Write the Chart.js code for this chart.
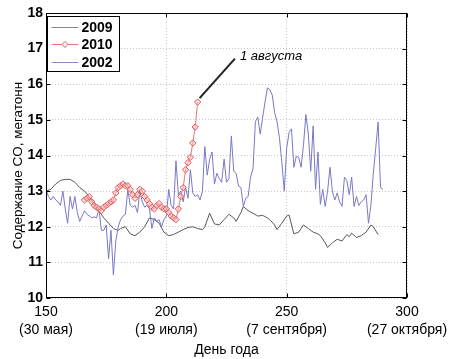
<!DOCTYPE html>
<html>
<head>
<meta charset="utf-8">
<script src="https://cdn.jsdelivr.net/npm/chart.js@4"></script>
<style>
html,body{margin:0;padding:0;background:#fff;}
canvas{display:block;}
</style>
</head>
<body>
<canvas id="coChart" width="456" height="359"></canvas>
<script>
// 2009 (grey)
const days2009 = [150,152,154,156,158,160,162,164,166,168,170,172,174,176,178,180,181,183,185,187,189,191,193,195,197,199,201,203,205,207,209,211,213,215,216,218,220,222,224,226,228,229,231,232,234,236,238,240,242,243,245,246,248,250,251,253,255,257,259,261,263,264,266,267,269,271,273,275,276,277,279,281,283,285,286,288];
const co2009 = [13.0,13.05,13.2,13.3,13.33,13.33,13.25,13.1,13.0,12.85,12.65,12.45,12.25,12.1,11.95,11.9,11.95,12.0,11.8,11.75,11.85,12.0,12.25,12.2,12.1,11.85,11.75,11.78,11.85,11.92,11.98,12.0,11.95,11.92,12.0,12.38,12.08,12.05,12.2,12.35,12.25,12.15,12.4,12.57,12.45,12.38,12.3,12.32,12.25,12.2,12.05,11.92,12.1,12.3,12.33,11.8,11.85,12.05,11.95,11.85,11.8,11.75,11.55,11.42,11.55,11.65,11.6,11.78,11.72,11.82,11.7,11.75,11.85,12.05,12.0,11.78];

// 2010 (red, markers)
const days2010 = [166,167,168,169,170,171,172,173,174,175,176,177,178,179,180,181,182,183,184,185,186,187,188,189,190,191,192,193,194,195,196,197,198,199,200,201,202,203,204,205,206,207,208,209,210,211,212,213];
const co2010 = [12.75,12.8,12.85,12.7,12.6,12.55,12.5,12.45,12.55,12.6,12.65,12.7,12.75,12.95,13.1,13.15,13.2,13.15,13.15,13.05,12.9,12.8,12.9,13.05,13.0,12.85,12.75,12.65,12.55,12.5,12.6,12.65,12.55,12.5,12.5,12.4,12.3,12.25,12.2,12.5,12.85,13.1,13.6,13.8,13.95,14.35,14.8,15.5];

// 2002 (blue)
const days2002 = [150,151,152,153,154,155,156,157,158,159,160,161,162,163,164,165,166,167,168,169,170,171,172,173,174,175,176,177,178,179,180,181,182,183,184,185,186,187,188,189,190,191,192,193,194,195,196,197,198,199,200,201,202,203,204,205,206,207,208,209,210,211,212,213,214,215,216,217,218,219,220,221,222,223,224,225,226,227,228,229,230,231,232,233,234,235,236,237,238,239,240,241,242,243,244,245,246,247,248,249,250,251,252,253,254,255,256,257,258,259,260,261,262,263,264,265,266,267,268,269,270,271,272,273,274,275,276,277,278,279,280,281,282,283,284,285,286,287,288,289,290];
const co2002 = [13.05,12.85,12.75,12.85,12.75,12.7,12.6,13.0,12.5,12.1,12.85,12.5,12.85,12.4,12.15,12.3,12.45,12.35,12.3,12.25,12.28,12.25,12.5,11.9,11.9,12.05,11.1,11.9,10.65,11.6,12.0,12.2,12.3,12.35,13.05,12.6,12.55,12.6,12.4,13.0,12.7,12.55,12.6,12.5,11.95,12.25,12.15,12.2,12.0,12.2,12.3,13.05,12.6,12.5,13.85,12.9,13.0,12.7,13.1,12.8,13.6,12.95,12.85,12.9,12.75,13.0,14.25,13.45,13.9,14.1,13.2,13.5,13.35,13.25,13.9,13.25,13.35,14.55,13.56,13.5,13.14,13.1,12.57,12.8,12.85,13.4,13.62,14.95,15.08,14.6,15.05,15.5,15.9,15.85,15.7,15.2,14.95,14.5,13.8,13.0,14.2,14.65,14.75,13.67,13.98,13.95,13.67,14.3,15.15,14.6,13.56,14.83,13.05,14.1,12.63,13.05,12.57,13.0,13.67,13.0,12.75,12.95,12.7,12.57,13.39,13.3,12.9,13.39,12.57,12.85,12.6,12.7,12.75,12.9,12.1,12.6,13.5,14.2,14.94,13.1,13.05];

const seriesNames = ["2009","2010","2002"];
const xTicks = [150,200,250,300];
const xTickDates = ["(30 мая)","(19 июля)","(7 сентября)","(27 октября)"];
const yTitle = "Содержание CO, мегатонн";
const noteText = "1 августа";

const FONT = "'Liberation Sans', Arial, sans-serif";

function pairs(xs, ys){
  return xs.map((x,i)=>({x:x, y:ys[i]}));
}

// frame + inward ticks + y title
const framePlugin = {
  id:"frame",
  afterDraw(chart){
    const {ctx, chartArea:a, scales} = chart;
    ctx.save();
    ctx.strokeStyle = "#000";
    ctx.lineWidth = 1;
    const L = Math.round(a.left)+0.5, R = Math.round(a.right)-0.5;
    const T = Math.round(a.top)+0.5, B = Math.round(a.bottom)-0.5;
    ctx.strokeRect(L, T, R-L, B-T);
    ctx.beginPath();
    scales.x.ticks.forEach(t=>{
      const px = Math.round(scales.x.getPixelForValue(t.value))+0.5;
      ctx.moveTo(px,B); ctx.lineTo(px,B-4);
      ctx.moveTo(px,T); ctx.lineTo(px,T+4);
    });
    scales.y.ticks.forEach(t=>{
      const py = Math.round(scales.y.getPixelForValue(t.value))+0.5;
      ctx.moveTo(L,py); ctx.lineTo(L+4,py);
      ctx.moveTo(R,py); ctx.lineTo(R-4,py);
    });
    ctx.stroke();

    // y axis title, sits a little below the axis centre as in the original
    ctx.translate(18, (a.top+a.bottom)/2 + 10);
    ctx.rotate(-Math.PI/2);
    ctx.fillStyle = "#000";
    ctx.font = "13.5px " + FONT;
    ctx.textAlign = "center";
    ctx.textBaseline = "middle";
    ctx.fillText(yTitle, 0, 0);
    ctx.restore();
  }
};

// "1 августа" callout on last 2010 point
const notePlugin = {
  id:"note",
  afterDatasetsDraw(chart){
    const {ctx, scales} = chart;
    const last = days2010.length-1;
    const px = scales.x.getPixelForValue(days2010[last]);
    const py = scales.y.getPixelForValue(co2010[last]);
    const ex = scales.x.getPixelForValue(228.5);
    const ey = scales.y.getPixelForValue(16.72);
    ctx.save();
    ctx.strokeStyle = "#222";
    ctx.lineWidth = 2;
    ctx.beginPath();
    ctx.moveTo(px+2, py-4);
    ctx.lineTo(ex, ey);
    ctx.stroke();
    ctx.fillStyle = "#000";
    ctx.font = "italic 13px " + FONT;
    ctx.textAlign = "left";
    ctx.textBaseline = "middle";
    ctx.fillText(noteText, ex+5, ey-2);
    ctx.restore();
  }
};

// boxed legend in the top-left corner
const legendPlugin = {
  id:"boxLegend",
  afterDraw(chart){
    const {ctx, chartArea:a} = chart;
    const x0 = Math.round(a.left)+1.5, y0 = Math.round(a.top)+3.5;
    const w = 72, h = 55;
    ctx.save();
    ctx.fillStyle = "#fff";
    ctx.fillRect(x0, y0, w, h);
    ctx.strokeStyle = "#000";
    ctx.lineWidth = 1;
    ctx.strokeRect(x0, y0, w, h);
    [0,1,2].forEach((di,i)=>{
      const ds = chart.data.datasets[di];
      const yy = Math.round(y0 + 10 + i*17.5)+0.5;
      ctx.strokeStyle = ds.legendColor;
      ctx.lineWidth = 1;
      ctx.beginPath();
      ctx.moveTo(x0+4, yy); ctx.lineTo(x0+31, yy);
      ctx.stroke();
      if(ds.pointRadius>0){
        const cx = x0+17.5, r = 3;
        ctx.fillStyle = "#fff";
        ctx.strokeStyle = ds.pointBorderColor;
        ctx.beginPath();
        ctx.moveTo(cx, yy-r); ctx.lineTo(cx+r, yy); ctx.lineTo(cx, yy+r); ctx.lineTo(cx-r, yy); ctx.closePath();
        ctx.fill(); ctx.stroke();
      }
      ctx.fillStyle = "#000";
      ctx.font = "bold 14px " + FONT;
      ctx.textAlign = "left";
      ctx.textBaseline = "middle";
      ctx.fillText(ds.label, x0+34, yy+1);
    });
    ctx.restore();
  }
};

new Chart(document.getElementById("coChart"),{
  type:"line",
  data:{
    datasets:[
      {
        label:seriesNames[0],
        data:pairs(days2009,co2009),
        borderColor:"#585858",
        legendColor:"#888",
        borderWidth:1,
        pointRadius:0,
        order:2
      },
      {
        label:seriesNames[1],
        data:pairs(days2010,co2010),
        borderColor:"#e87878",
        legendColor:"#e87878",
        borderWidth:1,
        pointRadius:3.2,
        pointStyle:"rectRot",
        pointBorderColor:"#e05a5a",
        pointBackgroundColor:"rgba(255,200,200,0.55)",
        pointBorderWidth:1,
        order:0
      },
      {
        label:seriesNames[2],
        data:pairs(days2002,co2002),
        borderColor:"#7878c8",
        legendColor:"#8a8ac8",
        borderWidth:1,
        pointRadius:0,
        order:1
      }
    ]
  },
  options:{
    responsive:false,
    animation:false,
    devicePixelRatio:1,
    layout:{padding:{top:13,right:49,left:0,bottom:0}},
    plugins:{
      legend:{display:false},
      tooltip:{enabled:false}
    },
    scales:{
      x:{
        type:"linear",
        min:150,
        max:300,
        afterBuildTicks(scale){ scale.ticks = xTicks.map(v=>({value:v})); },
        afterFit(scale){ scale.height = 61; },
        grid:{color:"#c8c8c8", drawTicks:false},
        border:{display:false, dash:[1,2]},
        ticks:{
          color:"#000",
          padding:5,
          maxRotation:0,
          autoSkip:false,
          font:{family:FONT, size:14, lineHeight:1.3},
          callback(v){
            const i = xTicks.indexOf(v);
            return i>=0 ? [String(v), xTickDates[i]] : "";
          }
        },
        title:{display:true, text:"День года", color:"#000", font:{family:FONT, size:14}, padding:{top:0,bottom:0}}
      },
      y:{
        min:10,
        max:18,
        afterFit(scale){ scale.width = 46; },
        grid:{color:"#c8c8c8", drawTicks:false},
        border:{display:false, dash:[1,2]},
        ticks:{
          stepSize:1,
          color:"#000",
          padding:3,
          font:{family:FONT, size:14, weight:"bold"}
        }
      }
    }
  },
  plugins:[framePlugin, notePlugin, legendPlugin]
});
</script>
</body>
</html>
